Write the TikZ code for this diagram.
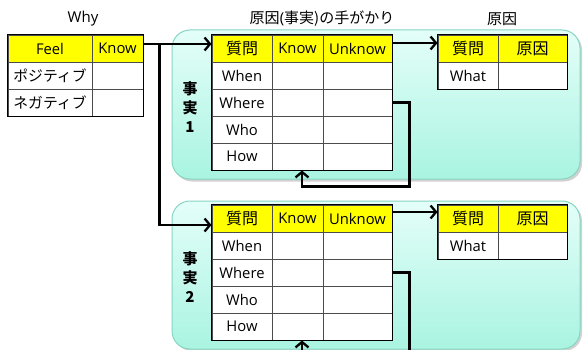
\documentclass[tikz,border=0pt]{standalone}
\usepackage{fontspec}
\setmainfont{Open Sans}
\newfontfamily\jp{Noto Sans CJK JP}
\usetikzlibrary{arrows.meta,calc}
\definecolor{panelTop}{HTML}{E4FEF9}
\definecolor{panelBot}{HTML}{A9F4E1}
\definecolor{panelLine}{HTML}{86D6C2}
\definecolor{hdr}{HTML}{FFFF00}
\tikzset{
  cell/.style={draw=black!70, line width=0.9pt, inner sep=0pt, minimum height=27pt,
    font=\fontsize{14.8}{16}\selectfont, text=black},
  hcell/.style={cell, fill=hdr},
  wcell/.style={cell, fill=white},
  outer/.style={draw=black, line width=1.1pt},
  arr/.style={line width=2.3pt, -{Straight Barb[length=5.5pt,width=13pt,line width=2.3pt]}},
  panel/.style={rounded corners=18pt, draw=panelLine, line width=1pt, top color=panelTop, bottom color=panelBot},
  pshadow/.style={rounded corners=18pt, fill=black, opacity=0.18},
  title/.style={font=\fontsize{15}{18}\selectfont, text=black},
  side/.style={font=\jp\bfseries\fontsize{15}{20}\selectfont, align=center, text=black}
}
\begin{document}
\begin{tikzpicture}[x=1pt,y=-1pt]
\clip (0,0) rectangle (583,350);
\fill[white] (0,0) rectangle (583,350);

% panels
\fill[pshadow] (174,32) rectangle (582,181.5);
\path[panel] (172,30) rectangle (580,179);
\fill[pshadow] (174,203) rectangle (582,351);
\path[panel] (172,201) rectangle (580,349);

% titles
\node[title] (tWhy) at (83,19) {Why};
\node[title] (tClue) at (322,19) {{\jp 原因}(\jp 事実)\jp の手がかり};
\node[title] (tCause) at (502,19) {\jp 原因};

% Why table
\node[hcell, minimum width=84pt] (wF) at (50,48.5) {Feel};
\node[hcell, minimum width=51pt] (wK) at (117.5,48.5) {Know};
\node[wcell, minimum width=84pt] (wP) at (50,75.5) {\jp ポジティブ};
\node[wcell, minimum width=51pt] (wPK) at (117.5,75.5) {};
\node[wcell, minimum width=84pt] (wN) at (50,102.5) {\jp ネガティブ};
\node[wcell, minimum width=51pt] (wNK) at (117.5,102.5) {};
\draw[outer] (wF.north west) rectangle (wNK.south east);

% Fact table 1
\node[hcell, minimum width=60pt] (f1q) at (242,48.5) {\jp\fontsize{16}{18}\selectfont 質問};
\node[hcell, minimum width=51pt] (f1k) at (297.5,48.5) {Know};
\node[hcell, minimum width=69pt] (f1u) at (357.5,48.5) {Unknow};
\node[wcell, minimum width=60pt] (f1wn) at (242,75.5) {When};
\node[wcell, minimum width=51pt] (f1wnk) at (297.5,75.5) {};
\node[wcell, minimum width=69pt] (f1wnu) at (357.5,75.5) {};
\node[wcell, minimum width=60pt] (f1wr) at (242,102.5) {Where};
\node[wcell, minimum width=51pt] (f1wrk) at (297.5,102.5) {};
\node[wcell, minimum width=69pt] (f1wru) at (357.5,102.5) {};
\node[wcell, minimum width=60pt] (f1wo) at (242,129.5) {Who};
\node[wcell, minimum width=51pt] (f1wok) at (297.5,129.5) {};
\node[wcell, minimum width=69pt] (f1wou) at (357.5,129.5) {};
\node[wcell, minimum width=60pt] (f1h) at (242,156.5) {How};
\node[wcell, minimum width=51pt] (f1hk) at (297.5,156.5) {};
\node[wcell, minimum width=69pt] (f1hu) at (357.5,156.5) {};
\draw[outer] (f1q.north west) rectangle (f1hu.south east);
\node[side] (s1) at (190,107) {事\\[-1pt]実\\[-1pt]1};

% Fact table 2
\node[hcell, minimum width=60pt] (f2q) at (242,218.5) {\jp\fontsize{16}{18}\selectfont 質問};
\node[hcell, minimum width=51pt] (f2k) at (297.5,218.5) {Know};
\node[hcell, minimum width=69pt] (f2u) at (357.5,218.5) {Unknow};
\node[wcell, minimum width=60pt] (f2wn) at (242,245.5) {When};
\node[wcell, minimum width=51pt] (f2wnk) at (297.5,245.5) {};
\node[wcell, minimum width=69pt] (f2wnu) at (357.5,245.5) {};
\node[wcell, minimum width=60pt] (f2wr) at (242,272.5) {Where};
\node[wcell, minimum width=51pt] (f2wrk) at (297.5,272.5) {};
\node[wcell, minimum width=69pt] (f2wru) at (357.5,272.5) {};
\node[wcell, minimum width=60pt] (f2wo) at (242,299.5) {Who};
\node[wcell, minimum width=51pt] (f2wok) at (297.5,299.5) {};
\node[wcell, minimum width=69pt] (f2wou) at (357.5,299.5) {};
\node[wcell, minimum width=60pt] (f2h) at (242,326.5) {How};
\node[wcell, minimum width=51pt] (f2hk) at (297.5,326.5) {};
\node[wcell, minimum width=69pt] (f2hu) at (357.5,326.5) {};
\draw[outer] (f2q.north west) rectangle (f2hu.south east);
\node[side] (s2) at (190,277) {事\\[-1pt]実\\[-1pt]2};

% Cause tables
\node[hcell, minimum width=60pt] (c1q) at (468,48.5) {\jp\fontsize{16}{18}\selectfont 質問};
\node[hcell, minimum width=69pt] (c1c) at (532.5,48.5) {\jp\fontsize{16}{18}\selectfont 原因};
\node[wcell, minimum width=60pt] (c1w) at (468,75.5) {What};
\node[wcell, minimum width=69pt] (c1wc) at (532.5,75.5) {};
\draw[outer] (c1q.north west) rectangle (c1wc.south east);

\node[hcell, minimum width=60pt] (c2q) at (468,218.5) {\jp\fontsize{16}{18}\selectfont 質問};
\node[hcell, minimum width=69pt] (c2c) at (532.5,218.5) {\jp\fontsize{16}{18}\selectfont 原因};
\node[wcell, minimum width=60pt] (c2w) at (468,245.5) {What};
\node[wcell, minimum width=69pt] (c2wc) at (532.5,245.5) {};
\draw[outer] (c2q.north west) rectangle (c2wc.south east);

% connectors
\coordinate (br) at ($(wK.east)+(16,-4.5)$);
\draw[arr] ($(wK.east)+(0,-4.5)$) -- ($(f1q.west)+(0,-4.5)$);
\draw[arr] (br) |- ($(f2q.west)+(0,6.5)$);
\draw[arr] ($(f1u.east)+(0,-5.5)$) -- ($(c1q.west)+(0,-5.5)$);
\draw[arr] ($(f2u.east)+(0,-6.5)$) -- ($(c2q.west)+(0,-6.5)$);
\draw[arr] (f1wru.east) -| ($(f1hu.south east)+(17,16)$) -| ($(f1hk.south)+(4.5,0)$);
\draw[arr] (f2wru.east) -| ($(f2hu.south east)+(17,16)$) -| ($(f2hk.south)+(4.5,0)$);
\end{tikzpicture}
\end{document}
